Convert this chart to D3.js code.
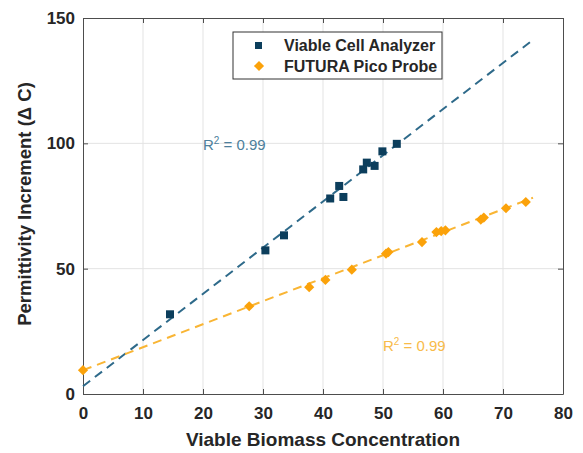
<!DOCTYPE html>
<html>
<head>
<meta charset="utf-8">
<script src="https://cdn.jsdelivr.net/npm/d3@7"></script>
<style>
  body { margin: 0; background: #fff; }
  text { font-family: "Liberation Sans", Arial, sans-serif; }
</style>
</head>
<body>
<svg width="583" height="453"></svg>
<script>
// blue: Viable Cell Analyzer
var vcaX = [14.5, 30.4, 33.5, 41.2, 42.7, 43.4, 46.7, 47.3, 48.6, 49.9, 52.3];
var vcaY = [31.8, 57.3, 63.3, 78, 83, 78.6, 89.6, 92.3, 91, 96.8, 99.8];
// orange: FUTURA Pico Probe
var picoX = [0, 27.7, 37.7, 40.4, 44.8, 50.5, 50.9, 56.5, 58.9, 59.7, 60.4, 66.3, 66.8, 70.5, 73.8];
var picoY = [9.5, 35, 42.6, 45.5, 49.6, 56, 56.6, 60.6, 64.6, 65, 65.3, 69.6, 70.4, 74.1, 76.6];
// fitted lines [x0, y0, x1, y1]
var vcaFit = [0, 3.1, 75, 141.3];
var picoFit = [0, 9.5, 75, 78.3];
var xTicks = [0, 10, 20, 30, 40, 50, 60, 70, 80];
var yTicks = [0, 50, 100, 150];

var margin = {top: 18, right: 20, bottom: 59, left: 83},
    width = 583 - margin.left - margin.right,
    height = 453 - margin.top - margin.bottom;

var svg = d3.select('svg');
var g = svg.append('g').attr('transform', 'translate(' + margin.left + ',' + margin.top + ')');

var x = d3.scaleLinear().domain([0, 80]).range([0, width]);
var y = d3.scaleLinear().domain([0, 150]).range([height, 0]);

// grid
g.selectAll('.gx').data(xTicks.slice(1, -1)).enter().append('line')
    .attr('x1', function(d) { return x(d); }).attr('x2', function(d) { return x(d); })
    .attr('y1', 0).attr('y2', height)
    .attr('stroke', '#e3e3e3').attr('stroke-width', 1);
g.selectAll('.gy').data(yTicks.slice(1, -1)).enter().append('line')
    .attr('y1', function(d) { return y(d); }).attr('y2', function(d) { return y(d); })
    .attr('x1', 0).attr('x2', width)
    .attr('stroke', '#e3e3e3').attr('stroke-width', 1);

// axes (ticks inward, box on all sides)
var fmt = function(a) {
  a.selectAll('text').attr('font-size', '17px').attr('font-weight', 'bold').attr('fill', '#262626');
  a.select('.domain').attr('stroke', '#4d4d4d');
  a.selectAll('.tick line').attr('stroke', '#4d4d4d');
};
g.append('g').attr('transform', 'translate(0,' + height + ')')
    .call(d3.axisBottom(x).tickValues(xTicks).tickSizeInner(-5).tickSizeOuter(0).tickPadding(13))
    .call(fmt);
g.append('g')
    .call(d3.axisLeft(y).tickValues(yTicks).tickSizeInner(-5).tickSizeOuter(0).tickPadding(8))
    .call(fmt);
g.append('g')
    .call(d3.axisTop(x).tickValues(xTicks).tickSizeInner(-5).tickSizeOuter(0).tickFormat(''))
    .call(fmt);
g.append('g').attr('transform', 'translate(' + width + ',0)')
    .call(d3.axisRight(y).tickValues(yTicks).tickSizeInner(-5).tickSizeOuter(0).tickFormat(''))
    .call(fmt);

// fit lines
g.append('line')
    .attr('x1', x(vcaFit[0])).attr('y1', y(vcaFit[1]))
    .attr('x2', x(vcaFit[2])).attr('y2', y(vcaFit[3]))
    .attr('stroke', '#2e6a8a').attr('stroke-width', 2).attr('stroke-dasharray', '9,6');
g.append('line')
    .attr('x1', x(picoFit[0])).attr('y1', y(picoFit[1]))
    .attr('x2', x(picoFit[2])).attr('y2', y(picoFit[3]))
    .attr('stroke', '#f9b534').attr('stroke-width', 2).attr('stroke-dasharray', '9,6');

// points
var vca = vcaX.map(function(v, i) { return {x: v, y: vcaY[i]}; });
var pico = picoX.map(function(v, i) { return {x: v, y: picoY[i]}; });

g.selectAll('.vca').data(vca).enter().append('rect')
    .attr('x', function(d) { return x(d.x) - 4; })
    .attr('y', function(d) { return y(d.y) - 4; })
    .attr('width', 8).attr('height', 8)
    .attr('fill', '#0c3e5c');

var diamond = d3.symbol().type(d3.symbolSquare).size(52);
g.selectAll('.pico').data(pico).enter().append('path')
    .attr('d', diamond)
    .attr('transform', function(d) { return 'translate(' + x(d.x) + ',' + y(d.y) + ') rotate(45)'; })
    .attr('fill', '#fba20a');

// R2 labels
var r2 = function(px, py, col) {
  var t = g.append('text').attr('x', px).attr('y', py)
      .attr('font-size', '15px').attr('fill', col);
  t.append('tspan').text('R');
  t.append('tspan').attr('dy', -6).attr('font-size', '10px').text('2');
  t.append('tspan').attr('dy', 6).text(' = 0.99');
};
r2(x(20), y(97.3), '#4d7f9c');
r2(x(50), y(17.3), '#f8bb4a');

// legend
var lg = g.append('g').attr('transform', 'translate(' + (233 - margin.left) + ',' + (32 - margin.top) + ')');
lg.append('rect').attr('width', 209).attr('height', 47)
    .attr('fill', '#fff').attr('stroke', '#333').attr('stroke-width', 1);
lg.append('rect').attr('x', 22).attr('y', 10).attr('width', 7).attr('height', 7).attr('fill', '#0c3e5c');
lg.append('path').attr('d', diamond).attr('transform', 'translate(26,34) rotate(45)').attr('fill', '#fba20a');
lg.append('text').attr('x', 51).attr('y', 19).attr('font-size', '16px').attr('font-weight', 'bold')
    .attr('fill', '#262626').text('Viable Cell Analyzer');
lg.append('text').attr('x', 51).attr('y', 40).attr('font-size', '16px').attr('font-weight', 'bold')
    .attr('fill', '#262626').text('FUTURA Pico Probe');

// axis titles
svg.append('text').attr('x', margin.left + width / 2).attr('y', 446)
    .attr('text-anchor', 'middle').attr('font-size', '19px').attr('font-weight', 'bold')
    .attr('fill', '#262626').text('Viable Biomass Concentration');
svg.append('text').attr('transform', 'translate(31,' + (margin.top + height / 2 - 2) + ') rotate(-90)')
    .attr('text-anchor', 'middle').attr('font-size', '18.5px').attr('font-weight', 'bold')
    .attr('fill', '#262626').text('Permittivity Increment (Δ C)');
</script>
</body>
</html>
